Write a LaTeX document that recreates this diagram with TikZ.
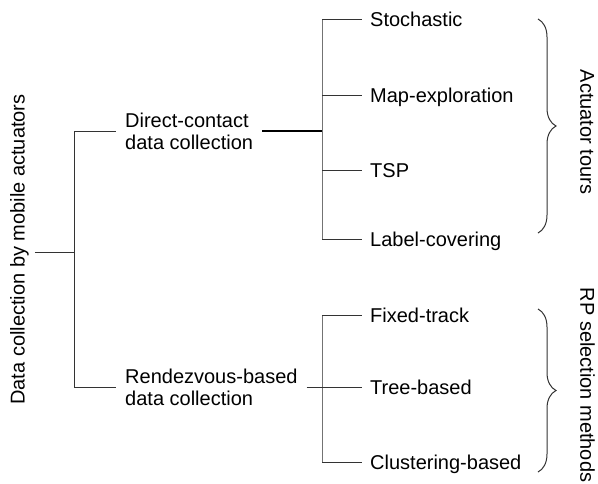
\documentclass[tikz,border=0pt]{standalone}
\usepackage{fontspec}
\setmainfont{Liberation Sans}
\usetikzlibrary{decorations.pathreplacing}

\definecolor{linecol}{gray}{0.2}
\definecolor{spinecol}{gray}{0.45}

\tikzset{
  txt/.style={font=\fontsize{20}{22}\selectfont, inner sep=0pt},
  midbox/.style={txt, anchor=west, align=left, inner xsep=9pt},
  leaf/.style={txt, anchor=west, inner xsep=8pt, text height=14.3pt, text depth=0pt},
  sidelabel/.style={txt, text height=14.3pt, text depth=0pt},
  conn/.style={draw=linecol, line width=1pt},
  spine/.style={draw=spinecol, line width=1pt},
  strong/.style={draw=black, line width=1.8pt},
  bracket/.style={draw=linecol, line width=1pt, decorate,
    decoration={brace, amplitude=18pt}},
}

\begin{document}
\begin{tikzpicture}[x=1pt, y=-1pt]
  \useasboundingbox (0,0) rectangle (598,483);

  % root of the classification, written bottom to top
  \node[sidelabel, rotate=90] (root) at (17.5,249.5)
    {Data collection by mobile actuators};

  % second level
  \node[midbox] (direct) at (116,131) {Direct-contact\\data collection};
  \node[midbox] (rdv) at (116,387) {Rendezvous-based\\data collection};

  % leaves: actuator tours
  \node[leaf] (sto) at (362,19)  {Stochastic};
  \node[leaf] (map) at (362,95)  {Map-exploration};
  \node[leaf] (tsp) at (362,170) {TSP};
  \node[leaf] (lab) at (362,239) {Label-covering};

  % leaves: RP selection methods
  \node[leaf] (fix) at (362,315) {Fixed-track};
  \node[leaf] (tre) at (362,387) {Tree-based};
  \node[leaf] (clu) at (362,462) {Clustering-based};

  % junction columns
  \coordinate (j0) at (74,252);
  \coordinate (sp) at (322,0);

  % left tree
  \draw[conn] ([xshift=10pt]root.south |- j0) -- (j0);
  \draw[conn] (j0 |- direct.west) -- (j0 |- rdv.west);
  \draw[conn] (j0 |- direct.west) -- (direct.west);
  \draw[conn] (j0 |- rdv.west) -- (rdv.west);

  % upper branch
  \draw[spine] (sp |- sto.west) -- (sp |- lab.west);
  \draw[strong] (direct.east) -- (direct.east -| sp);
  \foreach \n in {sto,map,tsp,lab}
    \draw[conn] (sp |- \n.west) -- (\n.west);

  % lower branch
  \draw[spine] (sp |- fix.west) -- (sp |- clu.west);
  \draw[conn] (rdv.east) -- (tre.west);
  \foreach \n in {fix,clu}
    \draw[conn] (sp |- \n.west) -- (\n.west);

  % group braces and their labels
  \draw[bracket] (538,19) -- (538,233);
  \draw[bracket] (538,309) -- (538,472);
  \node[sidelabel, rotate=-90] (tours) at (587.5,132) {Actuator tours};
  \node[sidelabel, rotate=-90] (rpsel) at (587.5,385) {RP selection methods};
\end{tikzpicture}
\end{document}
